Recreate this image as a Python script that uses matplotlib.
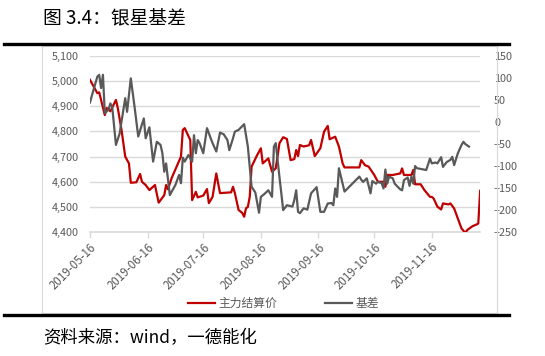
import matplotlib
matplotlib.use("Agg")
import matplotlib.pyplot as plt
import matplotlib.dates as mdates
from matplotlib.lines import Line2D
from matplotlib.patches import Rectangle
from matplotlib.ticker import FuncFormatter
import pandas as pd

plt.rcParams['font.family'] = ['Noto Sans CJK SC', 'DejaVu Sans']

# 主力结算价 (left axis)
price_dates = [
    "2019-05-16", "2019-05-19", "2019-05-20", "2019-05-21", "2019-05-24", "2019-05-25",
    "2019-05-27", "2019-05-30", "2019-05-31", "2019-06-02", "2019-06-04", "2019-06-06",
    "2019-06-07", "2019-06-10", "2019-06-12", "2019-06-13", "2019-06-15", "2019-06-17",
    "2019-06-20", "2019-06-22", "2019-06-25", "2019-06-26", "2019-06-27", "2019-06-29",
    "2019-07-04", "2019-07-05", "2019-07-06", "2019-07-09", "2019-07-10", "2019-07-12",
    "2019-07-13", "2019-07-16", "2019-07-18", "2019-07-19", "2019-07-21", "2019-07-23",
    "2019-07-25", "2019-07-31", "2019-08-01", "2019-08-02", "2019-08-04", "2019-08-06",
    "2019-08-07", "2019-08-08", "2019-08-09", "2019-08-10", "2019-08-11", "2019-08-14",
    "2019-08-16", "2019-08-17", "2019-08-20", "2019-08-22", "2019-08-24", "2019-08-26",
    "2019-08-28", "2019-08-30", "2019-09-01", "2019-09-03", "2019-09-04", "2019-09-05",
    "2019-09-06", "2019-09-08", "2019-09-11", "2019-09-12", "2019-09-14", "2019-09-17",
    "2019-09-19", "2019-09-21", "2019-09-22", "2019-09-25", "2019-09-27", "2019-09-29",
    "2019-09-30", "2019-10-08", "2019-10-09", "2019-10-11", "2019-10-13", "2019-10-16",
    "2019-10-18", "2019-10-21", "2019-10-22", "2019-10-23", "2019-10-26", "2019-10-30",
    "2019-10-31", "2019-11-01", "2019-11-05", "2019-11-06", "2019-11-07", "2019-11-10",
    "2019-11-12", "2019-11-15", "2019-11-16", "2019-11-17", "2019-11-19", "2019-11-21",
    "2019-11-22", "2019-11-25", "2019-11-26", "2019-11-28", "2019-11-30", "2019-12-02",
    "2019-12-04", "2019-12-05", "2019-12-08", "2019-12-10", "2019-12-11", "2019-12-12",
]
price = [
    5005, 4965, 4952, 4955, 4865, 4893,
    4880, 4925, 4893, 4806, 4700, 4673,
    4596, 4598, 4631, 4600, 4587, 4567,
    4587, 4517, 4547, 4587, 4570, 4615,
    4700, 4806, 4813, 4766, 4527, 4560,
    4538, 4545, 4571, 4515, 4540, 4633,
    4555, 4558, 4580, 4555, 4488, 4476,
    4461, 4495, 4500, 4540, 4660, 4706,
    4733, 4673, 4693, 4640, 4653, 4753,
    4777, 4770, 4686, 4690, 4726, 4702,
    4746, 4740, 4745, 4766, 4702, 4733,
    4799, 4822, 4769, 4779, 4740, 4673,
    4657, 4657, 4686, 4666, 4660, 4627,
    4600, 4600, 4580, 4627, 4627, 4633,
    4653, 4627, 4627, 4647, 4590, 4590,
    4567, 4540, 4540, 4533, 4501, 4490,
    4514, 4510, 4514, 4494, 4454, 4414,
    4397, 4408, 4424, 4430, 4434, 4564,
]

# 基差 (right axis)
basis_dates = [
    "2019-05-16", "2019-05-18", "2019-05-20", "2019-05-21", "2019-05-22", "2019-05-23",
    "2019-05-24", "2019-05-26", "2019-05-27", "2019-05-28", "2019-05-30", "2019-06-01",
    "2019-06-02", "2019-06-04", "2019-06-05", "2019-06-07", "2019-06-09", "2019-06-11",
    "2019-06-14", "2019-06-15", "2019-06-17", "2019-06-19", "2019-06-21", "2019-06-23",
    "2019-06-24", "2019-06-25", "2019-06-26", "2019-06-28", "2019-07-01", "2019-07-03",
    "2019-07-04", "2019-07-05", "2019-07-06", "2019-07-08", "2019-07-10", "2019-07-11",
    "2019-07-12", "2019-07-13", "2019-07-14", "2019-07-16", "2019-07-18", "2019-07-20",
    "2019-07-21", "2019-07-23", "2019-07-25", "2019-07-27", "2019-07-29", "2019-07-30",
    "2019-08-01", "2019-08-02", "2019-08-04", "2019-08-07", "2019-08-09", "2019-08-11",
    "2019-08-13", "2019-08-15", "2019-08-16", "2019-08-18", "2019-08-20", "2019-08-22",
    "2019-08-23", "2019-08-24", "2019-08-26", "2019-08-27", "2019-08-28", "2019-08-30",
    "2019-09-02", "2019-09-03", "2019-09-04", "2019-09-05", "2019-09-06", "2019-09-08",
    "2019-09-10", "2019-09-12", "2019-09-15", "2019-09-17", "2019-09-19", "2019-09-21",
    "2019-09-23", "2019-09-24", "2019-09-25", "2019-09-26", "2019-09-27", "2019-09-30",
    "2019-10-08", "2019-10-09", "2019-10-10", "2019-10-12", "2019-10-14", "2019-10-15",
    "2019-10-17", "2019-10-18", "2019-10-20", "2019-10-21", "2019-10-22", "2019-10-23",
    "2019-10-24", "2019-10-26", "2019-10-27", "2019-10-30", "2019-10-31", "2019-11-01",
    "2019-11-03", "2019-11-04", "2019-11-05", "2019-11-06", "2019-11-07", "2019-11-08",
    "2019-11-13", "2019-11-15", "2019-11-16", "2019-11-18", "2019-11-19", "2019-11-21",
    "2019-11-22", "2019-11-24", "2019-11-26", "2019-11-27", "2019-11-28", "2019-11-30",
    "2019-12-02", "2019-12-03", "2019-12-04", "2019-12-06",
]
basis = [
    44, 74, 103, 107, 77, 107,
    20, 28, 42, 34, -52, -26,
    1, 54, 23, 99, 35, -33,
    8, -37, -12, -90, -45, -52,
    -71, -113, -94, -166, -143, -120,
    -139, -81, -90, -75, -90, -30,
    -71, -41, -48, -71, -14, -37,
    -48, -67, -24, -28, -41, -64,
    -37, -22, -18, -5, -56, -147,
    -160, -206, -170, -163, -155, -170,
    -56, -48, -125, -162, -200, -189,
    -192, -177, -155, -204, -207, -196,
    -199, -162, -148, -204, -204, -185,
    -184, -189, -151, -170, -105, -158,
    -124, -131, -136, -128, -162, -134,
    -140, -136, -139, -151, -108, -140,
    -124, -128, -140, -153, -155, -132,
    -126, -145, -124, -140, -100, -105,
    -109, -83, -94, -92, -94, -80,
    -102, -91, -86, -79, -98, -71,
    -52, -45, -50, -56,
]

month_ticks = ["2019-05-16", "2019-06-16", "2019-07-16", "2019-08-16",
               "2019-09-16", "2019-10-16", "2019-11-16"]

fig = plt.figure(figsize=(5.45, 3.56), dpi=100)
ax = fig.add_axes([0.165, 0.348, 0.716, 0.495])
ax2 = ax.twinx()

grid_c = "#d9d9d9"
text_c = "#595959"

l1, = ax.plot(pd.to_datetime(price_dates), price, color="#c00000", lw=1.6, label="主力结算价", zorder=3)
l2, = ax2.plot(pd.to_datetime(basis_dates), basis, color="#595959", lw=1.6, label="基差", zorder=2)

ax.set_xlim(pd.Timestamp("2019-05-16"), pd.Timestamp("2019-12-12"))
ax.set_ylim(4400, 5100)
ax.set_yticks(range(4400, 5101, 100))
ax.yaxis.set_major_formatter(FuncFormatter(lambda v, p: f"{int(v):,}"))
ax2.set_ylim(-250, 150)
ax2.set_yticks(range(-250, 151, 50))

ax.grid(axis="y", color=grid_c, lw=1)
ax.set_axisbelow(True)
for a in (ax, ax2):
    for s in a.spines.values():
        s.set_visible(False)
ax.spines["bottom"].set_visible(True)
ax.spines["bottom"].set_color(grid_c)
ax.spines["bottom"].set_linewidth(1.2)

ax.set_xticks(pd.to_datetime(month_ticks))
ax.xaxis.set_major_formatter(mdates.DateFormatter("%Y-%m-%d"))
ax.tick_params(axis="x", colors=grid_c, length=4, width=1, labelcolor=text_c, labelsize=8.3, pad=2)
for lab in ax.get_xticklabels():
    lab.set_rotation(45)
    lab.set_ha("right")
    lab.set_rotation_mode("anchor")
ax.tick_params(axis="y", length=0, labelcolor=text_c, labelsize=7.8, pad=8)
ax2.tick_params(axis="y", length=0, labelcolor=text_c, labelsize=7.8, pad=10)

fig.legend(handles=[l1, l2], loc="center", bbox_to_anchor=(0.52, 0.148), ncol=2, frameon=False,
           fontsize=8.5, handlelength=2.3, columnspacing=4.0, handletextpad=0.3, labelcolor=text_c)

# outer chart frame and black rules
fig.add_artist(Rectangle((0.077, 0.121), 0.835, 0.75, transform=fig.transFigure,
                         fill=False, edgecolor=grid_c, lw=0.8))
fig.add_artist(Line2D([0.007, 0.934], [0.876, 0.876], transform=fig.transFigure, color="black", lw=2.4))
fig.add_artist(Line2D([0.007, 0.934], [0.115, 0.115], transform=fig.transFigure, color="black", lw=2.4))

fig.text(0.079, 0.949, "图 3.4：银星基差", fontsize=13.5, va="center", ha="left", color="black",
         fontweight="medium")
fig.text(0.079, 0.051, "资料来源：wind，一德能化", fontsize=12.5, va="center", ha="left", color="black")

fig.savefig("out.png", dpi=100)
